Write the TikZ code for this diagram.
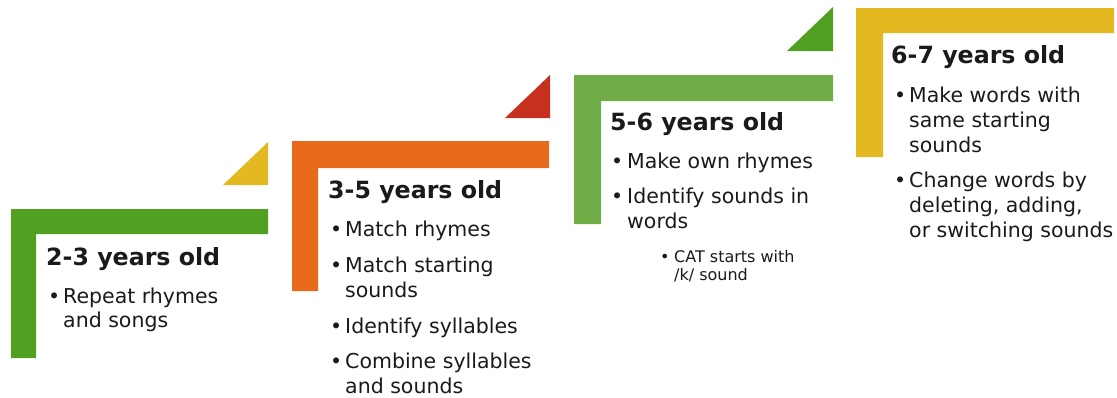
\documentclass[tikz,border=0pt]{standalone}
\usepackage{fontspec}
\setmainfont{DejaVu Sans}
\definecolor{gA}{HTML}{52A021}
\definecolor{yA}{HTML}{E3B821}
\definecolor{oA}{HTML}{E66A1A}
\definecolor{rA}{HTML}{C6301E}
\definecolor{gB}{HTML}{70AD47}
\definecolor{txt}{HTML}{1A1A1A}
\newcommand{\ttlfont}{\fontsize{23.7}{28}\selectfont\bfseries}
\newcommand{\bdyfont}{\fontsize{20.5}{24}\selectfont}
\newcommand{\smlfont}{\fontsize{16}{19}\selectfont}
\tikzset{
  ttl/.style={anchor=base west, inner sep=0pt, font=\ttlfont, text=txt},
  ln/.style={anchor=base west, inner sep=0pt, font=\bdyfont, text=txt},
  sm/.style={anchor=base west, inner sep=0pt, font=\smlfont, text=txt},
  bul/.style={anchor=base west, inner sep=0pt, font=\bdyfont, text=txt},
  sbul/.style={anchor=base west, inner sep=0pt, font=\smlfont, text=txt},
}
\begin{document}
\begin{tikzpicture}[x=1pt,y=-1pt]
\useasboundingbox (0,0) rectangle (1117,397);
% step 1
\fill[gA] (11,209) -- (268,209) -- (268,234) -- (36,234) -- (36,358) -- (11,358) -- cycle;
\fill[yA] (223,185) -- (268,185) -- (268,142) -- cycle;
% step 2
\fill[oA] (292,141) -- (549,141) -- (549,168) -- (318,168) -- (318,291) -- (292,291) -- cycle;
\fill[rA] (505,118) -- (550,118) -- (550,75) -- cycle;
% step 3
\fill[gB] (574,75) -- (833,75) -- (833,101) -- (601,101) -- (601,224) -- (574,224) -- cycle;
\fill[gA] (787,51) -- (833,51) -- (833,7) -- cycle;
% step 4
\fill[yA] (856,8) -- (1114,8) -- (1114,33) -- (883,33) -- (883,157) -- (856,157) -- cycle;

% box 1
\node[ttl] (t1) at (46,265) {2-3 years old};
\node[bul] (b1a) at (48,303) {•};
\node[ln] (l1a) at (63,303) {Repeat rhymes};
\node[ln] (l1b) at (63,327) {and songs};

% box 2
\node[ttl] (t2) at (328,198) {3-5 years old};
\node[bul] (b2a) at (330,236) {•};
\node[ln] (l2a) at (345,236) {Match rhymes};
\node[bul] (b2b) at (330,272) {•};
\node[ln] (l2b) at (345,272) {Match starting};
\node[ln] (l2c) at (345,297) {sounds};
\node[bul] (b2c) at (330,333) {•};
\node[ln] (l2d) at (345,333) {Identify syllables};
\node[bul] (b2d) at (330,368) {•};
\node[ln] (l2e) at (345,368) {Combine syllables};
\node[ln] (l2f) at (345,393) {and sounds};

% box 3
\node[ttl] (t3) at (610,130) {5-6 years old};
\node[bul] (b3a) at (611,168) {•};
\node[ln] (l3a) at (627,168) {Make own rhymes};
\node[bul] (b3b) at (611,203) {•};
\node[ln] (l3b) at (627,203) {Identify sounds in};
\node[ln] (l3c) at (627,228) {words};
\node[sbul] (b3c) at (660,262) {•};
\node[sm] (l3d) at (674,262) {CAT starts with};
\node[sm] (l3e) at (674,280) {/k/ sound};

% box 4
\node[ttl] (t4) at (891,63) {6-7 years old};
\node[bul] (b4a) at (894,102) {•};
\node[ln] (l4a) at (909,102) {Make words with};
\node[ln] (l4b) at (909,127) {same starting};
\node[ln] (l4c) at (909,152) {sounds};
\node[bul] (b4b) at (894,187) {•};
\node[ln] (l4d) at (909,187) {Change words by};
\node[ln] (l4e) at (909,212) {deleting, adding,};
\node[ln] (l4f) at (909,237) {or switching sounds};
\end{tikzpicture}
\end{document}
